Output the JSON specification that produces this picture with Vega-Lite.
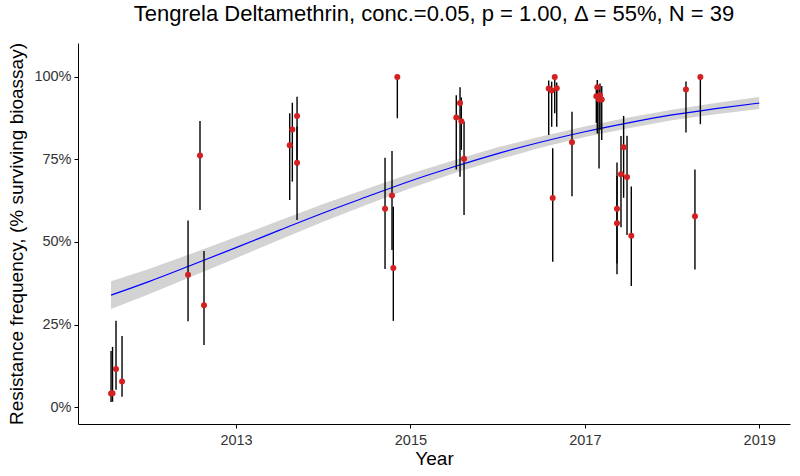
{
  "$schema": "https://vega.github.io/schema/vega-lite/v6.json",
  "width": 712,
  "height": 381,
  "autosize": "none",
  "padding": {"left": 78, "top": 43, "right": 10, "bottom": 52},
  "background": "white",
  "config": {
    "font": "Liberation Sans",
    "view": {"stroke": null},
    "axis": {"grid": false, "domainColor": "black", "tickColor": "black", "tickSize": 4, "labelColor": "#333333", "labelFontSize": 14.5, "titleFontSize": 19, "titleFontWeight": "normal", "titleColor": "black", "labelFont": "Liberation Sans", "titleFont": "Liberation Sans"}
  },
  "title": {"text": "Tengrela Deltamethrin, conc.=0.05, p = 1.00, Δ = 55%, N = 39", "fontSize": 22, "fontWeight": "normal", "font": "Liberation Sans", "color": "black", "anchor": "middle", "offset": 17},
  "datasets": {
    "fit": [
      {"year": 2011.567, "p": 0.339, "lo": 0.297, "hi": 0.381},
      {"year": 2012.0, "p": 0.380, "lo": 0.342, "hi": 0.418},
      {"year": 2012.5, "p": 0.431, "lo": 0.396, "hi": 0.466},
      {"year": 2013.0, "p": 0.483, "lo": 0.451, "hi": 0.515},
      {"year": 2013.5, "p": 0.536, "lo": 0.507, "hi": 0.565},
      {"year": 2014.0, "p": 0.588, "lo": 0.561, "hi": 0.615},
      {"year": 2014.5, "p": 0.637, "lo": 0.613, "hi": 0.661},
      {"year": 2015.0, "p": 0.685, "lo": 0.663, "hi": 0.707},
      {"year": 2015.5, "p": 0.728, "lo": 0.708, "hi": 0.748},
      {"year": 2016.0, "p": 0.768, "lo": 0.749, "hi": 0.787},
      {"year": 2016.5, "p": 0.803, "lo": 0.786, "hi": 0.820},
      {"year": 2017.0, "p": 0.834, "lo": 0.818, "hi": 0.850},
      {"year": 2017.5, "p": 0.861, "lo": 0.845, "hi": 0.877},
      {"year": 2018.0, "p": 0.885, "lo": 0.869, "hi": 0.901},
      {"year": 2018.5, "p": 0.904, "lo": 0.887, "hi": 0.921},
      {"year": 2019.0, "p": 0.921, "lo": 0.903, "hi": 0.939}
    ],
    "obs": [
      {"year": 2011.567, "p": 0.041, "lo": 0.015, "hi": 0.170},
      {"year": 2011.584, "p": 0.042, "lo": 0.016, "hi": 0.182},
      {"year": 2011.624, "p": 0.115, "lo": 0.052, "hi": 0.261},
      {"year": 2011.693, "p": 0.077, "lo": 0.031, "hi": 0.215},
      {"year": 2012.450, "p": 0.401, "lo": 0.260, "hi": 0.565},
      {"year": 2012.587, "p": 0.762, "lo": 0.597, "hi": 0.867},
      {"year": 2012.633, "p": 0.308, "lo": 0.188, "hi": 0.473},
      {"year": 2013.616, "p": 0.793, "lo": 0.627, "hi": 0.890},
      {"year": 2013.646, "p": 0.841, "lo": 0.683, "hi": 0.922},
      {"year": 2013.700, "p": 0.882, "lo": 0.730, "hi": 0.940},
      {"year": 2013.700, "p": 0.740, "lo": 0.567, "hi": 0.850},
      {"year": 2014.709, "p": 0.601, "lo": 0.418, "hi": 0.755},
      {"year": 2014.789, "p": 0.641, "lo": 0.476, "hi": 0.776},
      {"year": 2014.804, "p": 0.421, "lo": 0.261, "hi": 0.607},
      {"year": 2014.850, "p": 1.000, "lo": 0.875, "hi": 1.000},
      {"year": 2015.526, "p": 0.877, "lo": 0.720, "hi": 0.945},
      {"year": 2015.569, "p": 0.921, "lo": 0.698, "hi": 0.969},
      {"year": 2015.584, "p": 0.866, "lo": 0.779, "hi": 0.938},
      {"year": 2015.615, "p": 0.752, "lo": 0.582, "hi": 0.865},
      {"year": 2016.586, "p": 0.965, "lo": 0.824, "hi": 0.989},
      {"year": 2016.620, "p": 0.959, "lo": 0.849, "hi": 0.986},
      {"year": 2016.632, "p": 0.633, "lo": 0.440, "hi": 0.784},
      {"year": 2016.655, "p": 1.000, "lo": 0.890, "hi": 1.000},
      {"year": 2016.678, "p": 0.966, "lo": 0.849, "hi": 0.983},
      {"year": 2016.853, "p": 0.802, "lo": 0.639, "hi": 0.895},
      {"year": 2017.132, "p": 0.942, "lo": 0.861, "hi": 0.976},
      {"year": 2017.143, "p": 0.969, "lo": 0.829, "hi": 0.991},
      {"year": 2017.163, "p": 0.932, "lo": 0.723, "hi": 0.966},
      {"year": 2017.174, "p": 0.945, "lo": 0.840, "hi": 0.980},
      {"year": 2017.194, "p": 0.932, "lo": 0.809, "hi": 0.973},
      {"year": 2017.369, "p": 0.601, "lo": 0.435, "hi": 0.741},
      {"year": 2017.369, "p": 0.557, "lo": 0.402, "hi": 0.700},
      {"year": 2017.415, "p": 0.705, "lo": 0.545, "hi": 0.821},
      {"year": 2017.445, "p": 0.787, "lo": 0.634, "hi": 0.882},
      {"year": 2017.484, "p": 0.697, "lo": 0.521, "hi": 0.822},
      {"year": 2017.533, "p": 0.519, "lo": 0.367, "hi": 0.668},
      {"year": 2018.160, "p": 0.962, "lo": 0.832, "hi": 0.986},
      {"year": 2018.263, "p": 0.578, "lo": 0.417, "hi": 0.720},
      {"year": 2018.325, "p": 1.000, "lo": 0.857, "hi": 1.000}
    ]
  },
  "layer": [
    {
      "data": {"name": "fit"},
      "mark": {"type": "area", "color": "#d3d3d3", "opacity": 1},
      "encoding": {
        "x": {"field": "year", "type": "quantitative", "scale": {"domain": [2011.188, 2019.353], "nice": false, "zero": false}, "axis": {"values": [2013, 2015, 2017, 2019], "format": "d", "title": "Year", "labelPadding": 5, "titlePadding": 3}},
        "y": {"field": "lo", "type": "quantitative", "scale": {"domain": [-0.0515, 1.103], "nice": false, "zero": false}, "axis": {"values": [0, 0.25, 0.5, 0.75, 1], "format": ".0%", "title": "Resistance frequency, (% surviving bioassay)", "labelPadding": 3, "titlePadding": 7}},
        "y2": {"field": "hi"}
      }
    },
    {
      "data": {"name": "fit"},
      "mark": {"type": "line", "color": "#0000ff", "strokeWidth": 1.2, "interpolate": "monotone"},
      "encoding": {
        "x": {"field": "year", "type": "quantitative"},
        "y": {"field": "p", "type": "quantitative"}
      }
    },
    {
      "data": {"name": "obs"},
      "mark": {"type": "rule", "color": "black", "strokeWidth": 1.4},
      "encoding": {
        "x": {"field": "year", "type": "quantitative"},
        "y": {"field": "lo", "type": "quantitative"},
        "y2": {"field": "hi"}
      }
    },
    {
      "data": {"name": "obs"},
      "mark": {"type": "circle", "color": "#d42020", "opacity": 1, "size": 36},
      "encoding": {
        "x": {"field": "year", "type": "quantitative"},
        "y": {"field": "p", "type": "quantitative"}
      }
    }
  ]
}
